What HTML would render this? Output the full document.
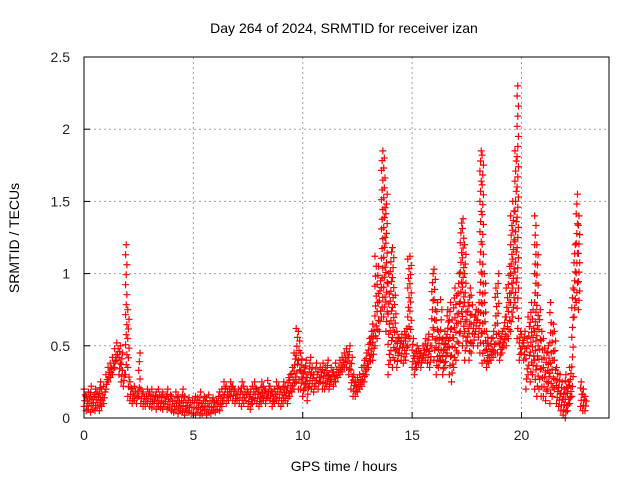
<!DOCTYPE html>
<html><head><meta charset="utf-8"><style>
body{margin:0;background:#fff}
svg{display:block;font-family:"Liberation Sans",sans-serif}
</style></head><body>
<svg id="chart" width="640" height="480">
<rect x="0" y="0" width="640" height="480" fill="#fff"/>
<text x="344" y="33" font-size="14" text-anchor="middle">Day 264 of 2024, SRMTID for receiver izan</text>
<text x="344" y="471" font-size="14" text-anchor="middle">GPS time / hours</text>
<text transform="translate(19,238) rotate(-90)" font-size="14" text-anchor="middle">SRMTID / TECUs</text>
<g id="grid"></g><g id="marks"></g><g id="axes"></g>
</svg>
<script>
const xTicks=[0,5,10,15,20];
const yTicks=[0,0.5,1,1.5,2,2.5];
const yTickLabels=["0","0.5","1","1.5","2","2.5"];
const startHour=0, stepHour=0.1;
const hiValues=[.2,.15,.18,.22,.15,.2,.18,.25,.2,.22,
.3,.35,.38,.42,.48,.52,.5,.45,.3,1.2,
.75,.25,.2,.22,.18,.45,.2,.18,.15,.2,
.18,.2,.15,.18,.2,.15,.18,.15,.2,.16,
.15,.12,.18,.15,.12,.2,.15,.12,.14,.12,
.12,.15,.14,.18,.12,.15,.14,.16,.12,.14,
.12,.15,.18,.2,.25,.22,.2,.25,.22,.2,
.2,.18,.25,.22,.2,.18,.2,.22,.25,.2,
.18,.25,.22,.2,.26,.22,.18,.2,.25,.22,
.2,.25,.22,.28,.3,.35,.45,.62,.6,.45,
.35,.4,.3,.42,.35,.3,.38,.32,.35,.38,
.35,.4,.3,.35,.32,.38,.35,.4,.42,.45,
.48,.5,.42,.3,.25,.28,.3,.35,.4,.45,
.55,.6,.65,1.12,1.05,.95,1.85,1.8,1.55,1.0,
1.15,1.18,.85,.6,.55,.58,.6,.62,1.1,1.12,
.55,.45,.5,.48,.45,.5,.55,.58,.5,1.0,
1.03,.8,.6,.82,.55,.6,.75,.8,.68,.9,
.85,1.0,1.35,1.38,1.2,.8,.9,.85,.7,.75,
.8,1.85,1.82,1.0,.6,.5,.55,.6,.9,1.0,
.55,.6,.7,.9,1.05,1.4,1.5,1.85,2.3,.6,
.58,.6,.55,.7,.8,.75,1.4,1.2,.75,.6,
.55,.45,.5,.8,.65,.6,.35,.3,.25,.2,
.3,.25,.35,.9,1.2,1.55,1.4,.25,.2,.15];
const loValues=[.08,.05,.06,.04,.06,.05,.07,.05,.08,.1,
.2,.25,.28,.3,.35,.4,.3,.25,.22,.3,
.15,.12,.1,.12,.1,.15,.1,.08,.08,.1,
.08,.07,.1,.06,.08,.07,.06,.08,.06,.07,
.05,.04,.06,.03,.05,.04,.02,.05,.04,.03,
.03,.02,.04,.02,.03,.05,.02,.04,.03,.05,
.04,.06,.05,.08,.12,.1,.12,.15,.12,.1,
.12,.1,.08,.1,.12,.08,.06,.1,.12,.1,
.08,.1,.12,.1,.14,.12,.08,.1,.12,.1,
.08,.1,.12,.1,.15,.18,.2,.25,.2,.2,
.15,.2,.12,.22,.2,.18,.22,.2,.25,.2,
.2,.22,.2,.25,.22,.25,.28,.3,.32,.35,
.35,.3,.2,.15,.15,.18,.2,.22,.25,.3,
.35,.4,.4,.5,.55,.6,.7,.7,.6,.3,
.4,.35,.4,.35,.45,.4,.38,.4,.5,.55,
.35,.3,.35,.38,.35,.4,.4,.38,.35,.5,
.4,.3,.35,.4,.3,.35,.45,.3,.25,.35,
.4,.45,.6,.5,.4,.5,.4,.45,.5,.6,
.5,.45,.38,.4,.35,.38,.4,.42,.45,.45,
.4,.45,.5,.5,.55,.6,.7,.8,.55,.4,
.45,.4,.2,.3,.25,.3,.2,.15,.2,.15,
.15,.12,.2,.1,.15,.2,.1,.08,.05,.02,
0,.05,.1,.15,.7,.8,.75,.08,.05,.05];
const L=84,R=609,T=57,B=418,XMAX=24,YMAX=2.5;
const xs=v=>L+(R-L)*v/XMAX, ys=v=>B-(B-T)*v/YMAX;
const NS="http://www.w3.org/2000/svg";
const grid=document.getElementById('grid'),marks=document.getElementById('marks'),axes=document.getElementById('axes');
function mk(tag,at,par){const e=document.createElementNS(NS,tag);for(const k in at)e.setAttribute(k,at[k]);par.appendChild(e);return e;}
xTicks.forEach(v=>{
 if(v>0){const g=mk('line',{x1:xs(v),x2:xs(v),y1:T,y2:B,stroke:'#a0a0a0','stroke-dasharray':'2,3'},grid);
 
 }
 const t=mk('line',{x1:xs(v),x2:xs(v),y1:B,y2:B-6,stroke:'#000'},axes);
 
 
 const lb=mk('text',{x:xs(v),y:B+22,'font-size':14,'text-anchor':'middle',fill:'#222'},axes);lb.textContent=v;
 
 
});
yTicks.forEach((v,i)=>{
 if(v>0&&v<YMAX){const g=mk('line',{x1:L,x2:R,y1:ys(v),y2:ys(v),stroke:'#a0a0a0','stroke-dasharray':'2,3'},grid);
 
 }
 const t=mk('line',{x1:L,x2:L+6,y1:ys(v),y2:ys(v),stroke:'#000'},axes);
 
 
 const lb=mk('text',{x:L-14,y:ys(v)+5,'font-size':14,'text-anchor':'end',fill:'#222'},axes);lb.textContent=yTickLabels[i];
 
 
});
const fr=mk('rect',{x:L,y:T,width:R-L,height:B-T,fill:'none',stroke:'#000'},axes);


let d='';
hiValues.forEach((hi,i)=>{
 const lo=loValues[i],t=startHour+i*stepHour;
 const gap=(hi-lo)>0.3?0.07:0.045;
 const n=Math.max(2,Math.ceil((hi-lo)/gap)+1);
 for(let k=0;k<n;k++){
  const v=lo+(hi-lo)*k/(n-1);
  const x=xs(t+(k%3)*0.03),y=ys(v);
  d+=`M${x-3.5},${y}h7M${x},${y-3.5}v7`;
 }
});
const p=mk('path',{d:d,stroke:'#ff0000','stroke-width':1.2,fill:'none'},marks);


</script>
</body></html>
